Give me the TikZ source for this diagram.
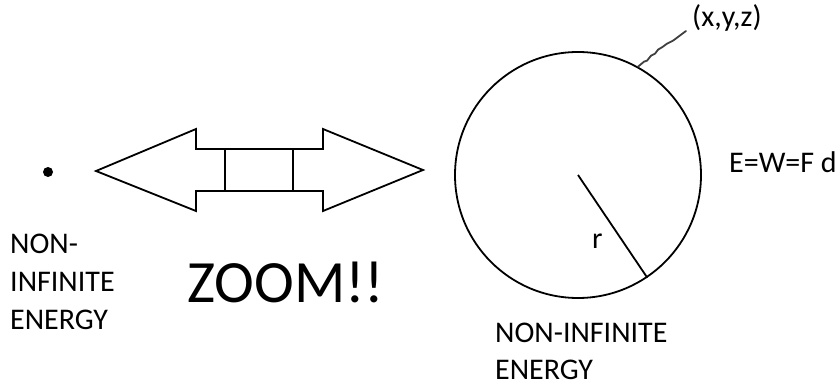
\documentclass[tikz,border=0pt]{standalone}
\usepackage{fontspec}
\setmainfont{Carlito}
\usetikzlibrary{calc}
\tikzset{
  shape line/.style={draw=black, line width=1.8pt, line join=miter},
  label text/.style={inner sep=0pt, anchor=base west, font=\fontsize{30}{38}\selectfont, align=left},
  line text/.style={inner sep=0pt, anchor=base west, font=\fontsize{30}{38}\selectfont},
}
\begin{document}
\begin{tikzpicture}[x=1pt,y=-1pt]
\useasboundingbox (0,0) rectangle (839,385);
% point
\fill (48,172) circle (5);
\coordinate (dot) at (48,172);
% double arrow
\draw[shape line] (96,171) -- (196,129) -- (196,149) -- (323,149) -- (323,129) -- (423,170)
  -- (323,211) -- (323,191) -- (196,191) -- (196,211) -- cycle;
\node[shape line, minimum width=68pt, minimum height=42pt, inner sep=0pt] (box) at (259,170) {};
% circle
\node[shape line, circle, minimum size=246pt, inner sep=0pt] (circ) at (578,175) {};
\draw[line width=1.8pt] (circ.center) -- (circ.-56);
\node[line text] (r) at (592,249) {r};
% coordinate label with squiggle
\node[line text] (xyz) at (692,27) {(x,y,z)};
\coordinate (sq) at (686,31);
\draw[line width=1.8pt, draw=black!75, line cap=round] (circ.61) -- ++(6,-5) -- ++(3,-1) -- ++(4,-5) -- ++(4,-2) -- ++(3,-4) -- ++(5,-3) -- ++(4,-3) -- ++(6,-3) -- (sq);
% texts
\node[label text] (lefttext) at (10,329) {NON-\\INFINITE\\ENERGY};
\node[inner sep=0pt, anchor=base west, font=\fontsize{60}{60}\selectfont] (zoom) at (187,302) {ZOOM!!};
\node[line text] (energy) at (729,173) {E=W=F d};
\node[line text] (righttext1) at (495,342) {NON-INFINITE};
\node[line text] (righttext2) at (495,379) {ENERGY};
\end{tikzpicture}
\end{document}
